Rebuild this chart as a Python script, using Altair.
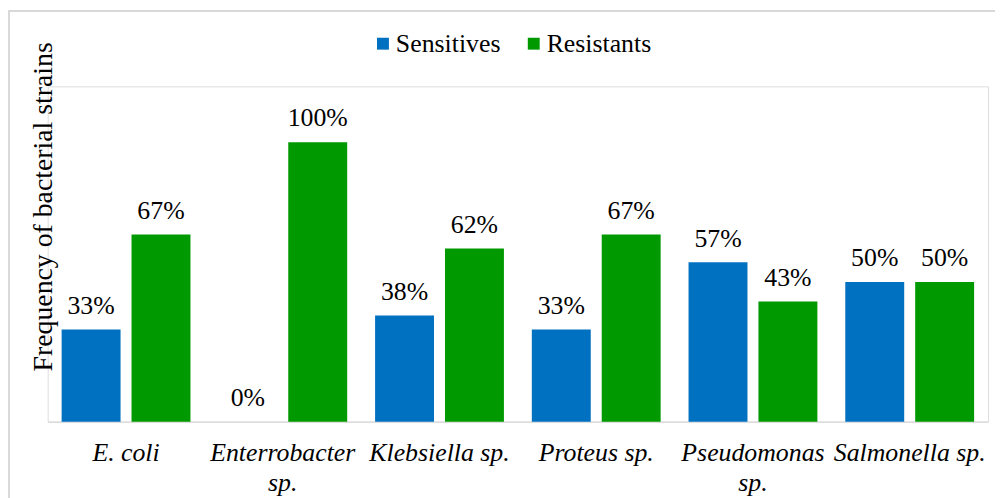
import altair as alt
import pandas as pd

categories = ["E. coli", "Enterrobacter sp.", "Klebsiella sp.", "Proteus sp.", "Pseudomonas sp.", "Salmonella sp."]
sensitives = [0.33, 0.0, 0.38, 0.33, 0.57, 0.50]
resistants = [0.67, 1.00, 0.62, 0.67, 0.43, 0.50]
series = ["Sensitives", "Resistants"]
colors = ["#0070C0", "#009900"]

rows = []
for c, s, r in zip(categories, sensitives, resistants):
    rows.append({"cat": c, "series": "Sensitives", "value": s, "label": f"{round(s*100)}%"})
    rows.append({"cat": c, "series": "Resistants", "value": r, "label": f"{round(r*100)}%"})
df = pd.DataFrame(rows)

FONT = "Liberation Serif"

label_expr = ("datum.label == 'Enterrobacter sp.' ? ['Enterrobacter', 'sp.'] : "
              "datum.label == 'Pseudomonas sp.' ? ['Pseudomonas', 'sp.'] : datum.label")

x = alt.X("cat:N", sort=categories, title=None,
          scale=alt.Scale(paddingInner=0.178, paddingOuter=0.089),
          axis=alt.Axis(labelAngle=0, labelFont=FONT, labelFontStyle="italic", labelFontSize=26,
                        labelColor="black", ticks=False, domainColor="#d9d9d9", domainWidth=1.5,
                        labelPadding=18, labelLineHeight=30, labelExpr=label_expr,
                        labelOverlap=False, labelBaseline="top"))
xo = alt.XOffset("series:N", sort=series, scale=alt.Scale(paddingInner=0.157, paddingOuter=0))
y = alt.Y("value:Q", scale=alt.Scale(domain=[0, 1.2]),
          axis=alt.Axis(title="Frequency of bacterial strains", labels=False, ticks=False,
                        domain=False, grid=False, titleFont=FONT, titleFontSize=28,
                        titleFontWeight="normal", titleColor="black", titleAngle=-90,
                        titleX=4, titleY=121, titleAlign="center", titleBaseline="alphabetic"))

base = alt.Chart(df)

bars = base.mark_bar().encode(
    x=x, xOffset=xo, y=y,
    color=alt.Color("series:N", sort=series, scale=alt.Scale(domain=series, range=colors),
                    legend=alt.Legend(title=None, orient="none", direction="horizontal",
                                      legendX=325, legendY=-56, symbolType="square",
                                      symbolSize=144, symbolStrokeWidth=0, labelFont=FONT,
                                      labelFontSize=26, labelColor="black", columnPadding=20,
                                      labelOffset=0, padding=0))
)

texts = base.mark_text(font=FONT, fontSize=26, color="black", dy=-16, baseline="alphabetic").encode(
    x=x, xOffset=xo, y=alt.Y("value:Q"), text="label:N"
)

frame_df = pd.DataFrame({"f": [1]})
frame = alt.Chart(frame_df).mark_rect(fill=None, stroke="#d9d9d9", strokeWidth=2).encode(
    x=alt.value(-39), x2=alt.value(1100), y=alt.value(-76), y2=alt.value(600)
)

chart = alt.layer(frame, bars, texts).properties(
    width=948, height=338,
    autosize=alt.AutoSizeParams(type="none"),
    padding={"left": 40, "top": 77, "right": 7, "bottom": 75},
).configure_view(stroke=None).configure(background="white")

chart.save("out.html", embed_options={"renderer": "svg", "actions": False})
